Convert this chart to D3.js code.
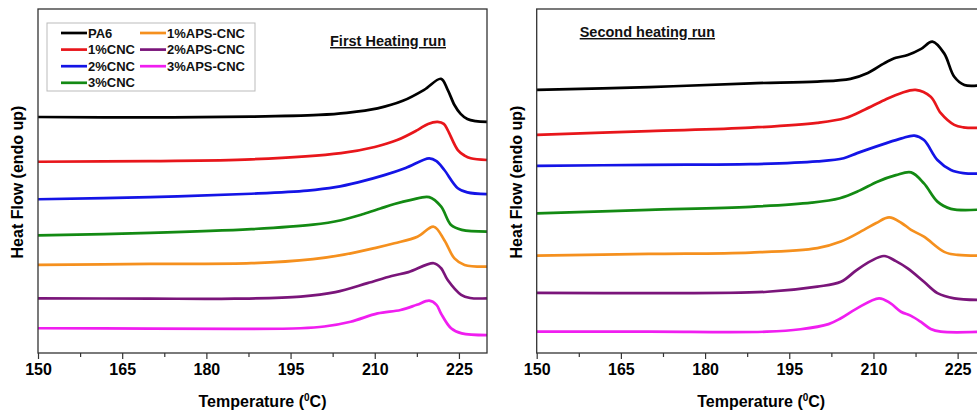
<!DOCTYPE html>
<html>
<head>
<meta charset="utf-8">
<script src="https://cdn.jsdelivr.net/npm/d3@7"></script>
<style>
  body { margin: 0; background: #fff; }
  svg { display: block; font-family: "Liberation Sans", Arial, sans-serif; font-weight: bold; }
</style>
</head>
<body>
<svg width="977" height="413"></svg>
<script>
'use strict';

// series names and colours (legend order)
var seriesNames = ["PA6", "1%CNC", "2%CNC", "3%CNC", "1%APS-CNC", "2%APS-CNC", "3%APS-CNC"];
var seriesColors = ["#000000", "#e8161b", "#1414e6", "#138a13", "#f5901e", "#7a157a", "#f01ef0"];
var xTicks = [150, 165, 180, 195, 210, 225];

// first heating run, [temperature, heat flow (offset, arb. units)]
var firstPA6 = [[150,68.6],[170,68.5],[188,68.7],[200,69.2],[205,69.8],[210.5,71.1],[215,73.3],[218.8,76.5],[221.8,79.7],[223,76.5],[224.2,72.1],[225.3,69.5],[226.5,68.0],[228,67.4],[230,67.2]];
var first1CNC = [[150,55.6],[170,55.8],[188,56.3],[204,58.1],[210,59.9],[214,61.9],[217.6,64.8],[219.5,66.6],[221.2,67.2],[222.3,66.6],[223,64.8],[224.8,59.0],[226,57.4],[227.1,56.6],[230,56.1]];
var first2CNC = [[150,44.7],[170,45.3],[188,46.3],[198,47.2],[203,48.2],[207,49.6],[211.7,51.7],[215.5,53.8],[219.7,56.6],[221,55.8],[222.4,53.2],[224.8,47.9],[226.5,46.7],[230,46.2]];
var first3CNC = [[150,34.2],[170,34.9],[188,36.0],[199,37.3],[204,38.6],[208,40.4],[211,42.0],[213.5,43.3],[216.5,44.5],[219.7,45.3],[221.8,42.6],[223.6,37.2],[225.5,35.8],[230,35.3]];
var first1APS = [[150,25.6],[170,25.9],[188,26.1],[199,27.3],[204.5,28.6],[210,30.5],[213.5,31.9],[217.6,33.8],[220.5,36.7],[222.4,32.8],[224.2,27.5],[226,25.6],[230,25.1]];
var first2APS = [[150,15.9],[170,15.8],[185,15.8],[196.8,16.4],[203,17.7],[208.7,20.3],[213,22.4],[216,23.5],[220.5,26.1],[221.8,24.7],[223,21.2],[225.4,16.9],[227,16.0],[230,15.9]];
var first3APS = [[150,7.2],[170,7.1],[185,7.0],[196.8,7.2],[201,7.7],[205.7,9.1],[210.5,11.5],[214.6,12.5],[217.5,14.0],[219.7,15.2],[221,14.0],[221.8,11.5],[223.6,7.2],[225.5,5.7],[230,5.2]];

// second heating run
var secondPA6 = [[150,76.5],[170,77.3],[188.1,78.4],[200,78.9],[205.9,79.7],[209,81.4],[211.9,84.2],[214,85.8],[216.1,86.6],[218.5,88.4],[220.5,90.5],[222.6,87.1],[224.4,80.3],[226.2,77.9],[228.6,77.7],[230,77.7]];
var second1CNC = [[150,63.4],[170,64.5],[188.1,65.5],[200,66.9],[205,68.3],[208.5,70.8],[211.9,73.5],[215,75.6],[217.5,76.5],[220.2,74.5],[222,69.7],[224.4,66.3],[226,65.6],[230,65.5]];
var second2CNC = [[150,54.4],[170,54.7],[188.1,54.9],[200,55.7],[204.7,56.6],[207.1,58.1],[211.9,60.8],[215,62.4],[217.3,63.2],[219,61.9],[221.4,56.1],[223.8,53.2],[226,52.3],[230,52.2]];
var second3CNC = [[150,40.6],[170,41.6],[188.1,42.5],[199,43.7],[204,45.0],[207.5,47.2],[210.7,49.8],[214,51.7],[216.7,52.5],[219,49.3],[221.4,44.0],[223.8,41.9],[230,41.8]];
var second1APS = [[150,28.3],[170,28.8],[188.1,29.2],[200,30.5],[204.2,32.4],[208.3,35.8],[210.5,37.8],[212.8,39.4],[215,37.8],[216.7,35.8],[219,33.8],[222.6,29.4],[225,28.5],[230,28.3]];
var second2APS = [[150,17.5],[170,17.4],[191.1,17.8],[200,19.3],[204.2,20.7],[207,24.1],[209.5,26.7],[211.9,28.2],[214,26.7],[216.1,24.6],[219,20.7],[221.4,17.4],[224.4,15.9],[230,15.4]];
var second3APS = [[150,6.2],[170,6.2],[191,6.2],[197,6.9],[202,8.4],[204.2,10.1],[207,12.9],[211,15.9],[213,14.5],[214.9,12.0],[216.7,10.8],[218.4,9.1],[220.2,7.0],[222,6.2],[230,6.2]];

var firstRun = [firstPA6, first1CNC, first2CNC, first3CNC, first1APS, first2APS, first3APS];
var secondRun = [secondPA6, second1CNC, second2CNC, second3CNC, second1APS, second2APS, second3APS];

var svg = d3.select("svg"),
    margin = {top: 9, left: 38},
    width = 449,
    height = 344,
    panelGap = 498.7;

function drawPanel(offsetX, runData, title, titleX, titleY, withLegend) {
  var x = d3.scaleLinear().domain([150, 230]).range([0, width]),
      y = d3.scaleLinear().domain([0, 100]).range([height, 0]);

  var g = svg.append("g")
    .attr("transform", "translate(" + (offsetX + margin.left) + "," + margin.top + ")");

  // catmull-rom keeps the curves smooth through the read-off points
  var line = d3.line()
    .curve(d3.curveCatmullRom.alpha(0.5))
    .x(function(d) { return x(d[0]); })
    .y(function(d) { return y(d[1]); });

  g.selectAll(".curve")
    .data(runData)
    .enter().append("path")
      .attr("class", "curve")
      .attr("fill", "none")
      .attr("stroke", function(d, i) { return seriesColors[i]; })
      .attr("stroke-width", 2.7)
      .attr("stroke-linejoin", "round")
      .attr("d", line);

  // frame
  g.append("rect")
    .attr("width", width)
    .attr("height", height)
    .attr("fill", "none")
    .attr("stroke", "#333")
    .attr("stroke-width", 1.3);

  // bottom axis, major + minor ticks
  var minor = d3.range(157.5, 230, 15);
  g.append("g")
    .attr("transform", "translate(0," + height + ")")
    .call(d3.axisBottom(x).tickValues(minor).tickSize(4).tickFormat(""))
    .call(function(a) { a.select(".domain").remove(); a.selectAll("line").attr("stroke", "#333").attr("stroke-width", 1.2); });

  g.append("g")
    .attr("transform", "translate(0," + height + ")")
    .call(d3.axisBottom(x).tickValues(xTicks).tickSize(6).tickPadding(5))
    .call(function(a) {
      a.select(".domain").remove();
      a.selectAll("line").attr("stroke", "#333").attr("stroke-width", 1.2);
      a.selectAll("text")
        .attr("fill", "#000")
        .style("font-size", "16px")
        .style("font-weight", "bold")
        .style("font-family", "'Liberation Sans', Arial, sans-serif");
    });

  // axis titles
  var xl = g.append("text")
    .attr("x", width / 2)
    .attr("y", 398)
    .attr("text-anchor", "middle")
    .attr("fill", "#000")
    .style("font-size", "16px");
  xl.append("tspan").text("Temperature (");
  xl.append("tspan").attr("dy", -6).style("font-size", "10px").text("0");
  xl.append("tspan").attr("dy", 6).text("C)");

  g.append("text")
    .attr("transform", "translate(-15," + (height / 2 + 1) + ") rotate(-90)")
    .attr("text-anchor", "middle")
    .attr("fill", "#000")
    .style("font-size", "16px")
    .text("Heat Flow (endo up)");

  g.append("text")
    .attr("x", titleX)
    .attr("y", titleY)
    .attr("fill", "#111")
    .style("font-size", "14.5px")
    .style("text-decoration", "underline")
    .text(title);

  if (withLegend) {
    var lg = g.append("g").attr("transform", "translate(9,14)");
    lg.append("rect")
      .attr("width", 208)
      .attr("height", 68)
      .attr("fill", "#fff")
      .attr("stroke", "#bbb");
    var item = lg.selectAll(".item")
      .data(seriesNames)
      .enter().append("g")
        .attr("class", "item")
        .attr("transform", function(d, i) {
          var col = i < 4 ? 0 : 1, row = i < 4 ? i : i - 4;
          return "translate(" + (14 + col * 79) + "," + (10 + row * 16.6) + ")";
        });
    item.append("line")
      .attr("x1", 0).attr("x2", 26)
      .attr("stroke", function(d, i) { return seriesColors[i]; })
      .attr("stroke-width", 2.7);
    item.append("text")
      .attr("x", 27)
      .attr("dy", "0.36em")
      .attr("fill", "#111")
      .style("font-size", "13px")
      .text(function(d) { return d; });
  }
}

drawPanel(0, firstRun, "First Heating run", 292, 37, true);
drawPanel(panelGap, secondRun, "Second heating run", 43, 28, false);
</script>
</body>
</html>
